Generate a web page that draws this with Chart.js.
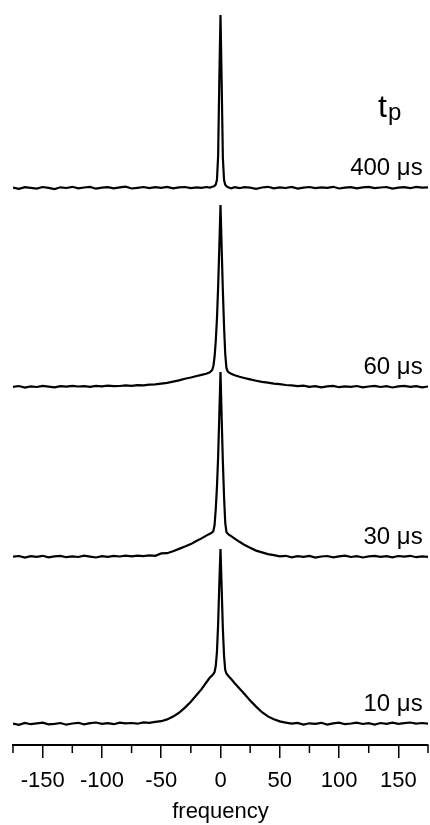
<!DOCTYPE html>
<html>
<head>
<meta charset="utf-8">
<script src="https://cdn.jsdelivr.net/npm/chart.js@4.4.1/dist/chart.umd.min.js"></script>
<style>
  html, body { margin: 0; padding: 0; background: #fff; }
  canvas { display: block; }
</style>
</head>
<body>
<canvas id="spectraChart" width="430" height="825"></canvas>
<script>
const spectraChart = document.getElementById('spectraChart');

// shared frequency axis (coarse in the wings, fine across the narrow line)
const frequency = [
    -175, -170, -165, -160, -155, -150, -145, -140, -135, -130, -125, -120, -115, -110, -105, -100,
    -95, -90, -85, -80, -75, -70, -65, -60, -55, -50, -45, -40, -35, -30, -25, -20,
    -16, -12, -9, -7, -6, -5, -4, -3, -2, -1, 0, 1, 2, 3, 4, 5, 6, 7, 9, 12, 16,
    20, 25, 30, 35, 40, 45, 50, 55, 60, 65, 70, 75, 80, 85, 90, 95,
    100, 105, 110, 115, 120, 125, 130, 135, 140, 145, 150, 155, 160, 165, 170, 175
];

// intensities above each trace's own baseline
const tp10 = [
    0.4, -0.9, 1.1, -0.2, 0.6, 1.3, -0.4, 0.2, 1.0, -0.7, 0.5, 1.2, -0.3, 0.8, 1.5, 0.1,
    0.9, -0.2, 1.4, 0.6, 1.0, 0.3, 1.6, 1.1, 2.2, 2.8, 4.6, 7.4, 11.2, 16.4, 22.3, 29.2,
    34.8, 41.5, 46.5, 48.6, 50.2, 52, 58, 72, 100, 140, 175, 135, 95, 68, 54, 50.5, 49, 47.5, 45, 40.8, 35.6,
    30.2, 23.6, 17.4, 11.8, 7.6, 4.8, 2.6, 1.4, 0.3, 1.1, -0.6, 0.7, 0.1, 1.2, -0.5, 0.6,
    1.3, -0.2, 0.5, 1.4, 0.0, 0.9, -0.6, 1.0, 0.2, 1.3, 0.1, 0.8, 1.5, 0.3, 1.0, 0.4
];
const tp30 = [
    0.3, 1.0, -0.6, 0.8, 0.1, 1.2, -0.4, 0.6, 1.1, -0.2, 0.7, 0.0, 1.3, 0.4, -0.5, 0.9,
    0.2, 1.1, 0.5, 1.3, 0.6, 1.4, 0.9, 1.6, 1.2, 3.6, 3.8, 5.8, 8.1, 10.4, 12.9, 16.2,
    18.6, 21.4, 23.2, 24.6, 26, 32, 48, 70, 100, 142, 185, 138, 95, 60, 34, 25, 23.5, 22.4, 20.8, 18.4, 15.2,
    12.3, 9.2, 6.4, 4.6, 2.9, 1.8, 0.6, 1.2, -0.4, 0.8, 0.1, 1.1, -0.6, 0.5, 1.0, -0.3,
    0.7, 1.3, 0.0, 0.9, -0.5, 0.6, 1.2, 0.1, 0.8, -0.4, 1.0, 0.3, 1.2, -0.2, 0.7, 0.2
];
const tp60 = [
    0.2, 1.0, -0.5, 0.7, 0.0, 1.1, 0.4, -0.3, 0.9, 0.3, 1.2, 0.5, 0.9, 0.1, 1.2, 0.6,
    1.3, 0.8, 1.0, 1.6, 1.1, 1.8, 1.6, 2.3, 2.6, 3.4, 4.2, 5.4, 6.6, 8.3, 9.5, 11.0,
    12.1, 13.2, 14.8, 17, 21, 30, 46, 68, 100, 140, 182, 138, 96, 60, 33, 19, 15.8, 14.6, 13.2, 11.8, 10.2,
    9.0, 7.6, 6.3, 5.1, 4.4, 3.3, 2.9, 2.0, 1.6, 0.8, 1.3, 0.2, 0.9, -0.3, 0.6, 1.1,
    -0.2, 0.7, 0.2, 1.0, -0.4, 0.5, 1.1, 0.0, 0.8, -0.5, 0.6, 1.2, 0.1, 0.9, -0.3, 0.5
];
const tp400 = [
    0.3, -0.8, 0.9, 0.1, -0.6, 1.0, 0.2, -1.0, 0.7, 0.0, 1.2, -0.4, 0.5, 1.1, -0.7, 0.4,
    0.9, -0.3, 0.6, 1.3, -0.5, 0.2, 1.0, -0.2, 0.8, 0.1, 1.1, -0.4, 0.6, 1.0, -0.1, 0.7,
    0.2, 1.0, 0.3, 1.2, 1.5, 2.2, 3.5, 8, 32, 108, 173, 104, 30, 8, 3.2, 1.8, 1.0, 0.5, -0.4, 0.8, -0.2,
    0.9, 0.3, -0.8, 0.5, 1.2, -0.3, 0.6, 0.0, 1.1, -0.6, 0.4, 1.0, -0.2, 0.7, 0.1, 1.2,
    -0.5, 0.3, 0.9, -0.4, 0.6, 1.1, -0.1, 0.5, 1.0, -0.6, 0.4, 0.8, -0.2, 1.1, 0.3, 0.6
];

const traces = [tp10, tp30, tp60, tp400];
const traceLabels = ['10 \u03bcs', '30 \u03bcs', '60 \u03bcs', '400 \u03bcs'];
const traceOffsets = [0, 167, 337, 536];

const majorTicks = [-150, -100, -50, 0, 50, 100, 150];
const minorTicks = [-175, -125, -75, -25, 25, 75, 125, 175];

const fontFamily = '"Liberation Sans", Arial, Helvetica, sans-serif';

const stackedData = {
    datasets: traces.map((trace, i) => ({
        label: traceLabels[i],
        data: frequency.map((f, j) => ({ x: f, y: trace[j] + traceOffsets[i] })),
        borderColor: '#000',
        borderWidth: 2.2,
        pointRadius: 0,
        tension: 0,
        fill: false
    }))
};

// short ticks half way between the labelled ones
const minorTickPlugin = {
    id: 'minorTicks',
    afterDraw(chart) {
        const ctx = chart.ctx;
        const xScale = chart.scales.x;
        ctx.save();
        ctx.strokeStyle = '#000';
        ctx.lineWidth = 1.5;
        minorTicks.forEach(v => {
            const px = Math.min(xScale.getPixelForValue(v), chart.width - 1);
            ctx.beginPath();
            ctx.moveTo(px, xScale.top);
            ctx.lineTo(px, xScale.top + 8);
            ctx.stroke();
        });
        ctx.restore();
    }
};

// trace labels and the t_p heading
const traceLabelPlugin = {
    id: 'traceLabels',
    afterDraw(chart) {
        const ctx = chart.ctx;
        const xScale = chart.scales.x;
        const yScale = chart.scales.y;
        const right = xScale.getPixelForValue(170.5);
        ctx.save();
        ctx.fillStyle = '#000';
        ctx.textAlign = 'right';
        ctx.textBaseline = 'alphabetic';
        ctx.font = '24px ' + fontFamily;
        traceLabels.forEach((label, i) => {
            ctx.fillText(label, right, yScale.getPixelForValue(traceOffsets[i] + 13));
        });
        const tpY = yScale.getPixelForValue(traceOffsets[3] + 71);
        ctx.textAlign = 'left';
        ctx.font = '32px ' + fontFamily;
        ctx.fillText('t', 378, tpY);
        ctx.font = '24px ' + fontFamily;
        ctx.fillText('p', 388, tpY + 3);
        ctx.restore();
    }
};

new Chart(spectraChart, {
    type: 'line',
    data: stackedData,
    options: {
        responsive: false,
        animation: false,
        layout: {
            padding: { left: 13, right: 2, top: 0, bottom: 0 }
        },
        plugins: {
            legend: { display: false },
            tooltip: { enabled: false }
        },
        scales: {
            x: {
                type: 'linear',
                min: -175,
                max: 175,
                afterBuildTicks: scale => {
                    scale.ticks = majorTicks.map(v => ({ value: v }));
                },
                afterFit: scale => {
                    scale.height = 80;
                },
                border: { color: '#000', width: 2 },
                grid: {
                    drawOnChartArea: false,
                    color: '#000',
                    lineWidth: 1.5,
                    tickLength: 13
                },
                ticks: {
                    color: '#000',
                    padding: 10,
                    maxRotation: 0,
                    autoSkip: false,
                    font: { family: fontFamily, size: 22 }
                },
                title: {
                    display: true,
                    text: 'frequency',
                    color: '#000',
                    padding: { top: 0, bottom: 0 },
                    font: { family: fontFamily, size: 22 }
                }
            },
            y: {
                display: false,
                min: -21,
                max: 724
            }
        }
    },
    plugins: [minorTickPlugin, traceLabelPlugin]
});
</script>
</body>
</html>
